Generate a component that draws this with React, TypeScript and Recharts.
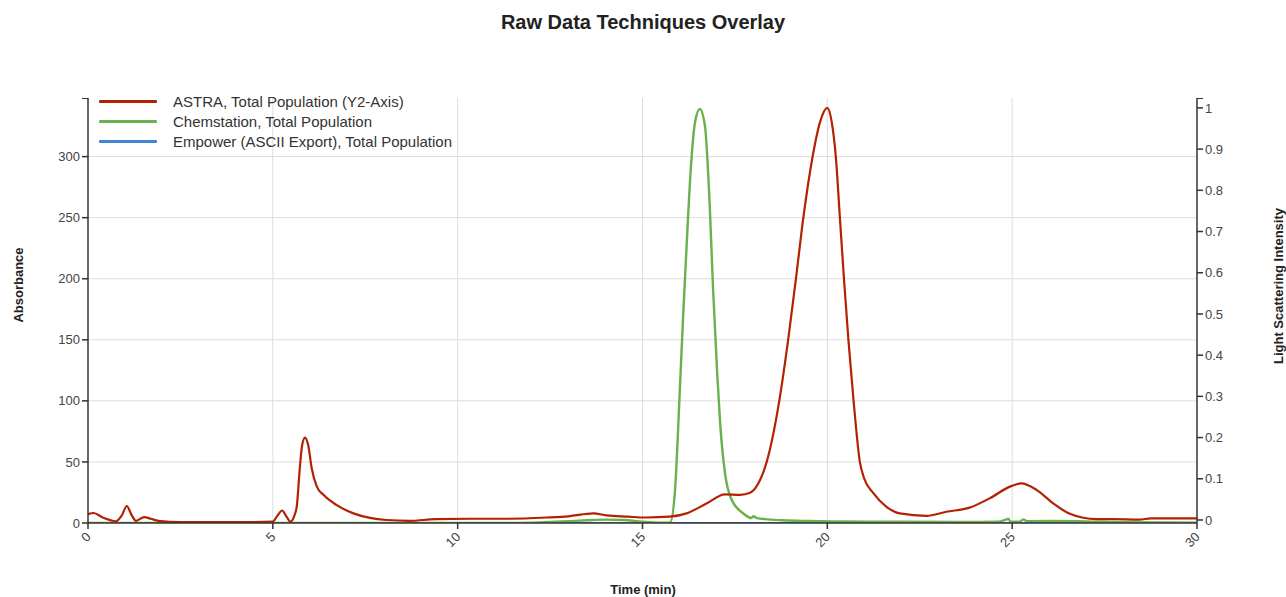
import { LineChart, Line, XAxis, YAxis, CartesianGrid } from 'recharts'

// ASTRA light scattering trace (Y2 axis, 0..1)
const astraTime = [
  0, 0.15, 0.4, 0.75, 0.92, 1.05, 1.18, 1.3, 1.52, 1.7, 1.9, 2.5, 3.5, 4.5, 5.0, 5.12, 5.25, 5.37, 5.48,
  5.58, 5.65, 5.73, 5.79, 5.87, 5.96, 6.05, 6.19, 6.37, 6.73, 7.18, 7.63, 8.08, 8.7, 9.4, 10.3, 11.3, 12.4,
  13.0, 13.67, 14.03, 14.6, 15.1, 15.74, 16.19, 16.73, 17.23, 17.64, 17.91, 18.18, 18.36, 18.7, 18.94,
  19.15, 19.35, 19.6, 19.8, 20.0, 20.12, 20.23, 20.34, 20.45, 20.57, 20.71, 20.88, 21.0, 21.24, 21.6,
  21.96, 22.68, 23.22, 23.85, 24.4, 24.94, 25.25, 25.66, 26.1, 26.56, 27.28, 27.7, 28.44, 28.75, 30,
]
const astraSignal = [
  0.014, 0.017, 0.006, -0.003, 0.012, 0.034, 0.012, -0.002, 0.007, 0.003, -0.002, -0.005, -0.005, -0.005,
  -0.004, 0.01, 0.023, 0.008, -0.004, 0.01, 0.035, 0.126, 0.18, 0.2, 0.18, 0.126, 0.081, 0.061, 0.036,
  0.016, 0.005, 0.0, -0.002, 0.002, 0.003, 0.003, 0.006, 0.009, 0.016, 0.011, 0.008, 0.006, 0.008, 0.016,
  0.04, 0.062, 0.061, 0.066, 0.097, 0.141, 0.289, 0.437, 0.585, 0.733, 0.881, 0.965, 1.0, 0.965, 0.881,
  0.733, 0.585, 0.437, 0.289, 0.141, 0.1, 0.066, 0.032, 0.016, 0.01, 0.02, 0.03, 0.053, 0.081, 0.089,
  0.073, 0.041, 0.015, 0.002, 0.002, 0.001, 0.004, 0.004,
]

// Chemstation absorbance trace (left axis)
const chemTime = [
  0, 11, 12, 12.5, 13, 13.5, 14.0, 14.5, 14.9, 15.3, 15.6, 15.75, 15.88, 16.01, 16.1, 16.19, 16.3, 16.42,
  16.55, 16.69, 16.82, 16.91, 17.02, 17.1, 17.23, 17.41, 17.72, 17.95, 18.0, 18.1, 18.4, 18.8, 19.5,
  20.5, 22, 23.5, 24.6, 24.85, 24.9, 24.95, 25.2, 25.3, 25.4, 26, 27, 28, 29, 30,
]
const chemSignal = [
  0, 0, 0.3, 0.8, 1.5, 2.2, 2.8, 2.5, 1.2, 0.5, 0.3, 0.5, 27, 109, 170, 225, 287, 328, 339, 325, 259, 191,
  123, 82, 41, 19, 8, 4, 5.5, 4, 3, 2.2, 1.6, 1.2, 1, 0.9, 1, 3, 3.5, 1.2, 1, 3, 1.5, 1.6, 1.3, 0.6, 0.4,
  0.3,
]

// Empower export (left axis) - flat
const empowerTime = [0, 10, 20, 30]
const empowerSignal = [0, 0, 0, 0]

const xTicks = [0, 5, 10, 15, 20, 25, 30]
const leftTicks = [0, 50, 100, 150, 200, 250, 300]
const rightTicks = [0, 0.1, 0.2, 0.3, 0.4, 0.5, 0.6, 0.7, 0.8, 0.9, 1]

const seriesNames = [
  'ASTRA, Total Population (Y2-Axis)',
  'Chemstation, Total Population',
  'Empower (ASCII Export), Total Population',
]
const seriesColors = ['#b22200', '#6ab04c', '#3d85d6']

const toPoints = (ts: number[], vs: number[]) => ts.map((t, i) => ({ t, v: vs[i] }))

const font = '"Liberation Sans", Arial, Helvetica, sans-serif'
const axisColor = '#333'
const tickStyle = { fontSize: 13, fill: '#444' }

function TimeTick({ x, y, payload }: any) {
  return (
    <g transform={`translate(${x - 2},${y + 1})`}>
      <text x={0} y={0} dy={8} textAnchor="end" transform="rotate(-45)" fontSize={13} fill="#444">
        {payload.value}
      </text>
    </g>
  )
}

export default function App() {
  const astra = toPoints(astraTime, astraSignal)
  const chem = toPoints(chemTime, chemSignal)
  const empower = toPoints(empowerTime, empowerSignal)

  return (
    <div style={{ position: 'absolute', left: 0, top: 0, width: 1286, height: 597, background: '#fff', fontFamily: font }}>
      <div style={{ position: 'absolute', left: 0, width: 1286, top: 11, textAlign: 'center', fontSize: 20, fontWeight: 'bold', color: '#222' }}>
        Raw Data Techniques Overlay
      </div>

      <LineChart width={1286} height={597} margin={{ top: 98, right: 29, bottom: 34, left: 28 }}>
        <CartesianGrid
          yAxisId="left"
          stroke="#ddd"
          strokeWidth={1}
          horizontalValues={leftTicks.slice(1)}
          verticalValues={xTicks.slice(1, -1)}
        />
        <XAxis
          dataKey="t"
          type="number"
          domain={[0, 30]}
          ticks={xTicks}
          allowDataOverflow
          height={40}
          stroke={axisColor}
          strokeWidth={1.5}
          tickSize={6}
          tick={<TimeTick />}
        />
        <YAxis
          yAxisId="left"
          domain={[0, 348]}
          ticks={leftTicks}
          allowDataOverflow
          width={60}
          stroke={axisColor}
          strokeWidth={1.5}
          tickSize={6}
          tick={tickStyle}
        />
        <YAxis
          yAxisId="right"
          orientation="right"
          domain={[-0.0073, 1.024]}
          ticks={rightTicks}
          allowDataOverflow
          width={60}
          stroke={axisColor}
          strokeWidth={1.5}
          tickSize={6}
          tick={tickStyle}
        />
        <Line data={empower} yAxisId="left" dataKey="v" type="linear" stroke={seriesColors[2]} strokeWidth={2} dot={false} isAnimationActive={false} />
        <Line data={chem} yAxisId="left" dataKey="v" type="monotone" stroke={seriesColors[1]} strokeWidth={2.4} dot={false} isAnimationActive={false} />
        <Line data={astra} yAxisId="right" dataKey="v" type="monotone" stroke={seriesColors[0]} strokeWidth={2.2} dot={false} isAnimationActive={false} />
      </LineChart>

      {/* outer ticks at the top of both y axes */}
      <div style={{ position: 'absolute', left: 82, top: 97.5, width: 6, height: 1.5, background: axisColor }} />
      <div style={{ position: 'absolute', left: 1197, top: 97.5, width: 6, height: 1.5, background: axisColor }} />

      <div style={{ position: 'absolute', left: 99, top: 91 }}>
        {seriesNames.map((name, i) => (
          <div key={name} style={{ display: 'flex', alignItems: 'center', height: 20 }}>
            <div style={{ width: 58, height: 3, background: seriesColors[i], borderRadius: 1 }} />
            <span style={{ marginLeft: 16, fontSize: 15, color: '#333' }}>{name}</span>
          </div>
        ))}
      </div>

      <div style={{ position: 'absolute', left: 18, top: 285, transform: 'translate(-50%, -50%) rotate(-90deg)', fontSize: 13, fontWeight: 'bold', color: '#222', whiteSpace: 'nowrap' }}>
        Absorbance
      </div>
      <div style={{ position: 'absolute', left: 1278, top: 286, transform: 'translate(-50%, -50%) rotate(-90deg)', fontSize: 13, fontWeight: 'bold', color: '#222', whiteSpace: 'nowrap' }}>
        Light Scattering Intensity
      </div>
      <div style={{ position: 'absolute', left: 643, top: 589, transform: 'translate(-50%, -50%)', fontSize: 13, fontWeight: 'bold', color: '#222', whiteSpace: 'nowrap' }}>
        Time (min)
      </div>
    </div>
  )
}
